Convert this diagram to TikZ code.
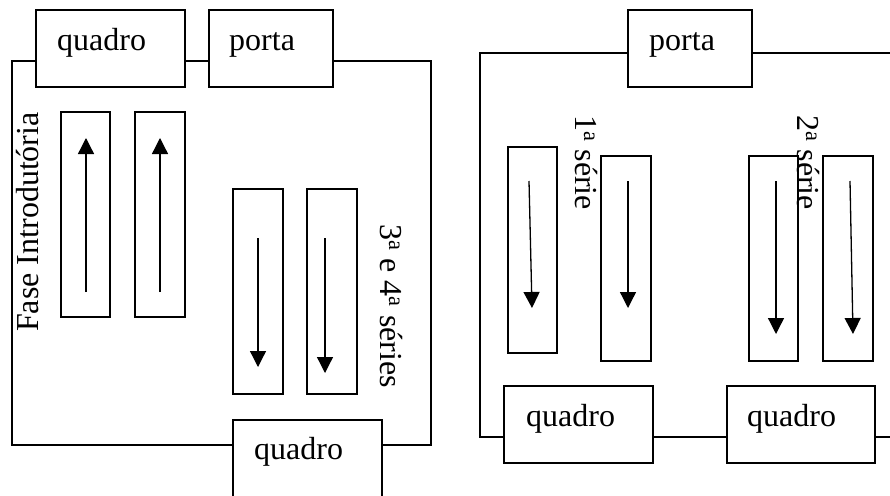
\documentclass[tikz,border=0pt]{standalone}
\usepackage{fontspec}
\setmainfont{Liberation Serif}
\usetikzlibrary{arrows.meta}
\begin{document}
\begin{tikzpicture}[x=1pt,y=-1pt,
  box/.style={draw,line width=1.3pt,inner sep=0pt,rectangle},
  lbl/.style={inner sep=0pt,font=\fontsize{32}{38}\selectfont},
  wall/.style={line width=1.3pt},
  flow/.style={line width=1.3pt,-{Triangle[length=16pt,width=16pt]}}]
\useasboundingbox (0,0) rectangle (890,495);
\clip (0,0) rectangle (890,495);
% ---------- left room ----------
\node[box,minimum width=149pt,minimum height=77pt] (qtl) at (110.5,48.5) {};
\node[box,minimum width=124pt,minimum height=77pt] (ptl) at (271,48.5) {};
\node[box,minimum width=149pt,minimum height=80pt] (qbl) at (307.5,460) {};
\node[lbl,anchor=base west] (tqtl) at (57,50) {quadro};
\node[lbl,anchor=base west] (tptl) at (229,50) {porta};
\node[lbl,anchor=base west] (tqbl) at (254,459) {quadro};
\coordinate (LTL) at (12,61);
\coordinate (LBL) at (12,445);
\coordinate (LBR) at (431,445);
\coordinate (LTR) at (431,61);
\draw[wall] (qtl.west |- LTL) -- (LTL) -- (LBL) -- (qbl.west |- LBL);
\draw[wall] (qbl.east |- LBR) -- (LBR) -- (LTR) -- (ptl.east |- LTR);
\draw[wall] (qtl.east |- LTL) -- (ptl.west |- LTL);
\node[box,minimum width=49pt,minimum height=205pt] (s1) at (85.5,214.5) {};
\node[box,minimum width=50pt,minimum height=205pt] (s2) at (160,214.5) {};
\node[box,minimum width=50pt,minimum height=205pt] (s3) at (258,291.5) {};
\node[box,minimum width=50pt,minimum height=205pt] (s4) at (332,291.5) {};
\coordinate (a1s) at (86,292);  \coordinate (a1e) at (86,138);
\coordinate (a2s) at (160,292); \coordinate (a2e) at (160,138);
\coordinate (a3s) at (258,238); \coordinate (a3e) at (258,367);
\coordinate (a4s) at (325,238); \coordinate (a4e) at (325,373);
\draw[flow] (a1s) -- (a1e);
\draw[flow] (a2s) -- (a2e);
\draw[flow] (a3s) -- (a3e);
\draw[flow] (a4s) -- (a4e);
\node[lbl,rotate=90,anchor=base west] (fase) at (38,332) {Fase Introdutória};
\node[lbl,rotate=-90,anchor=base west] (s34) at (380,224) {3\textsuperscript{a} e 4\textsuperscript{a} séries};
% ---------- right room ----------
\node[box,minimum width=124pt,minimum height=77pt] (ptr) at (690,48.5) {};
\node[box,minimum width=149pt,minimum height=77pt] (qa) at (578.5,424.5) {};
\node[box,minimum width=148pt,minimum height=77pt] (qb) at (801,424.5) {};
\node[lbl,anchor=base west] (tptr) at (649,50) {porta};
\node[lbl,anchor=base west] (tqa) at (526,426) {quadro};
\node[lbl,anchor=base west] (tqb) at (747,426) {quadro};
\coordinate (RTL) at (480,53);
\coordinate (RBL) at (480,437);
\coordinate (RTE) at (891,53);
\coordinate (RBE) at (891,437);
\draw[wall] (ptr.west |- RTL) -- (RTL) -- (RBL) -- (qa.west |- RBL);
\draw[wall] (qa.east |- RBL) -- (qb.west |- RBL);
\draw[wall] (qb.east |- RBL) -- (RBE);
\draw[wall] (ptr.east |- RTL) -- (RTE);
\node[box,minimum width=49pt,minimum height=206pt] (r1) at (532.5,250) {};
\node[box,minimum width=50pt,minimum height=205pt] (r2) at (626,258.5) {};
\node[box,minimum width=49pt,minimum height=205pt] (r3) at (773.5,258.5) {};
\node[box,minimum width=50pt,minimum height=205pt] (r4) at (848,258.5) {};
\coordinate (b1s) at (529,181); \coordinate (b1e) at (532,308);
\coordinate (b2s) at (628,181); \coordinate (b2e) at (628,308);
\coordinate (b3s) at (776,181); \coordinate (b3e) at (776,334);
\coordinate (b4s) at (850,181); \coordinate (b4e) at (853,334);
\draw[flow] (b1s) -- (b1e);
\draw[flow] (b2s) -- (b2e);
\draw[flow] (b3s) -- (b3e);
\draw[flow] (b4s) -- (b4e);
\node[lbl,rotate=-90,anchor=base west] (ser1) at (575,115) {1\textsuperscript{a} série};
\node[lbl,rotate=-90,anchor=base west] (ser2) at (797,115) {2\textsuperscript{a} série};
\end{tikzpicture}
\end{document}
